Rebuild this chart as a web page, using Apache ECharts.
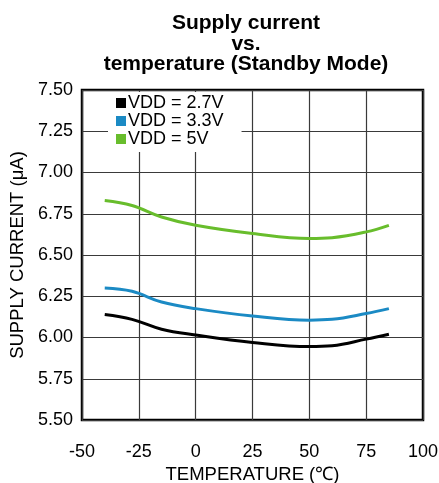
<!DOCTYPE html>
<html>
<head>
<meta charset="utf-8">
<script src="https://cdn.jsdelivr.net/npm/echarts@6/dist/echarts.min.js"></script>
<style>
  html, body { margin: 0; padding: 0; background: #fff; }
  #chart { width: 439px; height: 483px; }
</style>
</head>
<body>
<div id="chart"></div>
<script>
// temperatures (°C)
var temps = [-40, -28, -15, 0, 25, 50, 60, 75, 85];
// supply current in uA
var vdd27 = [6.14, 6.11, 6.05, 6.015, 5.97, 5.945, 5.95, 5.99, 6.02];
var vdd33 = [6.30, 6.28, 6.215, 6.175, 6.13, 6.105, 6.11, 6.145, 6.175];
var vdd5 = [6.83, 6.80, 6.73, 6.68, 6.63, 6.60, 6.605, 6.64, 6.68];
var seriesNames = ["VDD = 2.7V", "VDD = 3.3V", "VDD = 5V"];
var colors = ["#000000", "#1b8ac4", "#68bd2c"];

function pairs(ys) {
  var out = [];
  for (var i = 0; i < temps.length; i++) {
    out.push([temps[i], ys[i]]);
  }
  return out;
}

var font = "'Liberation Sans', Arial, sans-serif";
var myChart = echarts.init(document.getElementById("chart"));

var seriesData = [vdd27, vdd33, vdd5];
var series = [];
for (var s = 0; s < seriesData.length; s++) {
  series.push({
    name: seriesNames[s],
    type: "line",
    smooth: 0.4,
    showSymbol: false,
    data: pairs(seriesData[s]),
    lineStyle: { color: colors[s], width: 3 },
    itemStyle: { color: colors[s] }
  });
}

myChart.setOption({
  animation: false,
  title: {
    text: "Supply current\nvs.\ntemperature (Standby Mode)",
    left: 241,
    top: 8,
    textAlign: "center",
    textStyle: {
      fontFamily: font,
      fontSize: 21,
      fontWeight: "bold",
      color: "#000",
      lineHeight: 20.5
    }
  },
  legend: {
    data: seriesNames,
    orient: "vertical",
    left: 108,
    top: 92,
    icon: "rect",
    itemWidth: 10,
    itemHeight: 10,
    itemGap: 0,
    padding: [2, 18, 4, 8],
    backgroundColor: "#fff",
    textStyle: { fontFamily: font, fontSize: 18, color: "#000", lineHeight: 16.5, padding: [0, 0, 0, -3] }
  },
  grid: {
    left: 82,
    right: 16,
    top: 90,
    bottom: 63,
    outerBoundsMode: "none",
    show: true,
    borderColor: "#000",
    borderWidth: 2.5
  },
  xAxis: {
    type: "value",
    min: -50,
    max: 100,
    interval: 25,
    name: "TEMPERATURE (\u2103)",
    nameLocation: "middle",
    nameGap: 45,
    nameTextStyle: { fontFamily: font, fontSize: 18.5, color: "#000" },
    axisLine: { show: false },
    axisTick: { show: false },
    axisLabel: { fontFamily: font, fontSize: 18, color: "#000", margin: 23 },
    splitLine: { lineStyle: { color: "#3a3a3a", width: 1.2 } }
  },
  yAxis: {
    type: "value",
    min: 5.5,
    max: 7.5,
    interval: 0.25,
    name: "SUPPLY CURRENT (\u03bcA)",
    nameLocation: "middle",
    nameGap: 54,
    nameTextStyle: { fontFamily: font, fontSize: 18.5, color: "#000" },
    axisLine: { show: false },
    axisTick: { show: false },
    axisLabel: {
      fontFamily: font,
      fontSize: 18,
      color: "#000",
      margin: 9,
      formatter: function (v) { return v.toFixed(2); }
    },
    splitLine: { lineStyle: { color: "#3a3a3a", width: 1.2 } }
  },
  series: series
});
</script>
</body>
</html>
